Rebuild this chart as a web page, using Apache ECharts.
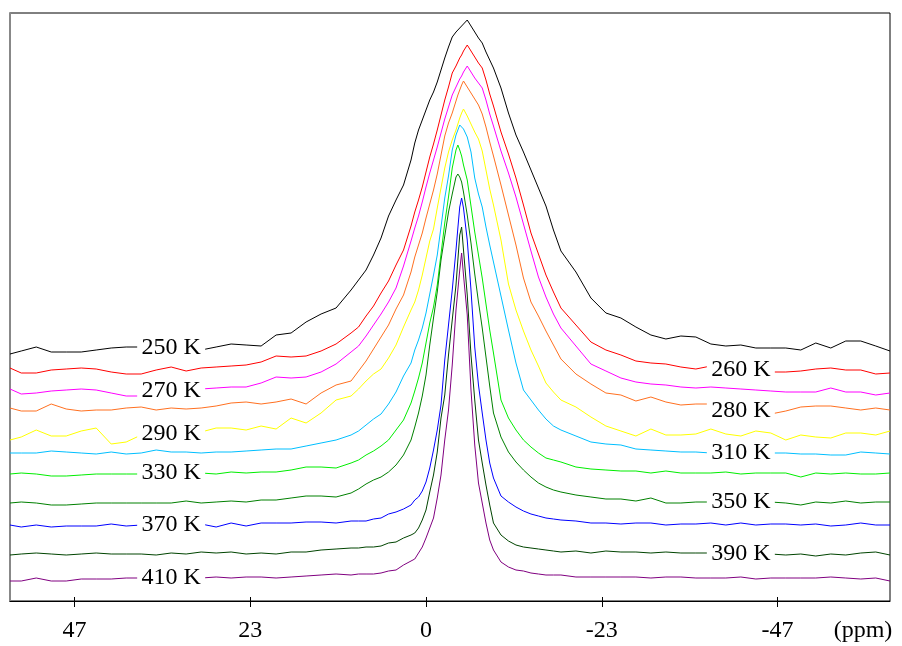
<!DOCTYPE html>
<html><head><meta charset="utf-8">
<script src="https://cdn.jsdelivr.net/npm/echarts@6/dist/echarts.min.js"></script>
<style>html,body{margin:0;padding:0;background:#fff}#c{width:902px;height:646px}</style>
</head><body><div id="c"></div>
<script>
// chemical shift grid (ppm)
const ppm = [55.5,54,52,50,48,46,44,42,40,38,36,34,32,30,28,26,24,22,20,18,16,14,12,10,9,8,7,6,5,4,3,2,1.5,1,0.5,0,-0.5,-1,-1.5,-2,-2.5,-3,-3.5,-4,-4.25,-4.5,-4.75,-5,-5.5,-6,-6.5,-7,-7.5,-8,-8.5,-9,-10,-11,-12,-13,-14,-15,-16,-17,-18,-20,-22,-24,-26,-28,-30,-32,-34,-36,-38,-40,-42,-44,-46,-48,-50,-52,-54,-56,-58,-60,-61.9];

const tickValues = [46.9, 23.45, 0, -23.45, -46.9];
const tickLabels = ['47', '23', '0', '-23', '-47'];
const axisTitle = '(ppm)';
const axisTitleAt = -58.3;

const temps = ['250 K','260 K','270 K','280 K','290 K','310 K','330 K','350 K','370 K','390 K','410 K'];

// stacked spectra (arbitrary intensity units, already offset as in the figure)
const s250 = [247,250,254,249,249,249,251,253,254,254,253,253,252,251,254,257,256,255,266,268,279,287,293,311,321,331,346,363,385,401,416,441,458,471,481,491,501,509,519,531,543,554,564,569,571,573,575,577,581,575,569,563,558,549,541,533,513,488,466,449,431,413,395,371,350,329,303,288,283,274,266,262,265,264,257,255,256,253,253,253,251,258,253,260,260,255,250];
const s260 = [233,228,228,231,232,233,232,229,227,227,231,234,230,233,234,235,236,239,245,244,245,250,257,268,274,285,295,308,320,336,351,375,389,401,414,429,444,457,471,486,501,514,528,535,539,543,546,550,556,550,544,538,533,521,507,495,469,447,423,396,368,347,326,309,293,276,259,251,246,240,238,237,234,232,235,233,231,230,229,229,230,232,233,231,231,227,228];
const s270 = [212,207,208,210,211,212,211,208,205,205,208,210,211,212,213,214,214,218,224,223,224,229,237,249,255,265,276,287,299,313,335,360,373,385,399,414,428,441,454,468,482,494,506,514,518,522,525,529,535,529,523,518,513,501,487,475,450,428,404,377,350,324,304,287,273,255,237,230,223,219,217,216,214,213,214,213,212,211,210,209,209,209,213,209,209,206,208];
const s280 = [193,190,190,197,192,190,191,191,193,194,191,193,192,193,195,198,199,197,199,202,197,208,216,220,230,240,252,264,276,292,306,329,344,356,368,383,397,411,427,446,465,478,488,500,506,511,516,520,514,508,502,496,487,474,459,445,416,386,356,323,299,285,270,256,242,227,217,208,206,200,204,199,196,197,197,193,190,188,187,190,194,195,195,193,191,193,191];
const s290 = [161,164,171,165,165,170,173,157,159,166,167,167,168,169,173,173,171,175,172,183,178,188,201,205,212,220,227,232,243,256,274,291,299,311,326,343,360,372,393,413,433,449,461,471,477,483,488,492,485,477,469,462,450,431,412,396,361,317,291,270,251,235,218,209,201,194,184,175,170,165,172,166,166,167,172,167,165,170,168,161,166,164,163,168,168,166,170];
const s310 = [148,148,148,150,149,148,147,149,147,148,151,149,149,148,149,149,150,151,152,152,155,158,161,166,170,176,182,187,197,209,225,238,251,261,273,288,307,326,346,374,403,425,451,466,471,476,476,472,464,449,423,407,394,374,356,339,305,271,238,211,201,191,182,175,171,165,159,157,156,152,151,150,149,149,148,148,148,148,148,148,147,147,146,146,149,148,147];
const s330 = [127,128,127,125,125,126,127,127,127,127,127,128,128,128,127,129,128,129,129,131,134,134,133,138,141,146,150,155,161,171,181,198,210,223,238,258,278,294,316,347,378,404,433,451,456,451,445,436,421,395,369,346,323,297,271,248,201,183,171,161,154,148,143,141,139,134,132,131,130,130,128,130,128,128,128,129,127,128,128,128,124,128,127,128,127,127,128];
const s350 = [98,99,98,96,96,97,98,98,98,98,98,98,100,98,99,100,99,101,101,103,105,105,104,108,112,117,121,124,129,136,146,161,174,188,205,226,256,283,309,341,365,389,407,424,427,424,419,409,386,358,327,299,273,244,215,188,164,149,139,131,124,118,114,111,109,106,104,102,102,100,103,98,98,99,99,99,99,99,99,98,96,99,98,100,98,99,99];
const s370 = [76,74,76,74,75,75,75,77,75,76,76,76,77,77,74,78,75,78,78,78,79,79,78,80,80,80,82,83,87,89,92,96,101,104,110,119,133,151,171,196,241,276,311,351,373,394,403,393,361,311,254,216,188,161,138,123,105,99,94,90,87,85,83,82,81,80,78,78,77,78,78,76,77,77,78,76,78,76,77,77,76,77,75,76,78,76,76];
const s390 = [46,47,48,47,46,47,48,47,47,47,46,48,47,49,48,49,47,48,47,49,49,51,52,53,53,54,54,55,58,59,63,66,68,73,81,91,109,126,149,183,206,246,281,316,341,366,374,351,306,246,201,161,138,116,96,78,66,60,56,54,53,52,51,50,49,50,48,50,49,49,48,49,48,48,48,47,47,47,47,46,47,45,47,46,48,49,46];
const s410 = [20,20,23,20,20,22,22,22,23,23,23,23,23,23,24,23,24,24,23,24,25,26,27,26,27,27,27,28,30,31,36,40,42,48,54,63,73,83,103,126,161,191,236,291,311,331,348,326,286,211,156,118,98,78,61,51,39,34,31,30,28,27,26,26,26,24,24,24,24,24,23,24,24,23,23,23,24,22,23,23,23,23,24,23,22,23,20];

const spectra = [s250,s260,s270,s280,s290,s310,s330,s350,s370,s390,s410];

// styling
const colors = ['#000000','#ff0000','#ff00ff','#ff7020','#ffff00','#00bfff','#00ee00','#008000','#0000ff','#004400','#800080'];
const labelPpm = [34, -42, 34, -42, 34, -42, 34, -42, 34, -42, 34];
const FONT = 'Liberation Serif';

const chart = echarts.init(document.getElementById('c'), null, {renderer: 'canvas'});

const series = spectra.map((vals, k) => {
  const li = ppm.indexOf(labelPpm[k]);
  return {
    type: 'line',
    name: temps[k],
    data: ppm.map((p, i) => [p, vals[i]]),
    showSymbol: false,
    symbol: 'none',
    lineStyle: {color: colors[k], width: 1},
    itemStyle: {color: colors[k]},
    silent: true,
    z: 2,
    markPoint: {
      silent: true,
      symbol: 'rect',
      symbolSize: [68, 26],
      itemStyle: {color: '#ffffff'},
      label: {show: true, position: 'inside', formatter: '{b}', color: '#000', fontSize: 24, fontFamily: FONT},
      data: [{name: temps[k], coord: [ppm[li], vals[li]]}]
    }
  };
});

const lblVals = tickValues.concat([axisTitleAt]);
const lblText = tickLabels.concat([axisTitle]);

chart.setOption({
  animation: false,
  backgroundColor: '#ffffff',
  grid: {left: 10, right: 12, top: 13, bottom: 45, show: true, borderColor: '#000', borderWidth: 1, backgroundColor: 'transparent'},
  xAxis: [{
    type: 'value', inverse: true, min: -61.9, max: 55.5,
    axisLine: {show: true, onZero: false, lineStyle: {color: '#000', width: 1}},
    axisTick: {show: true, customValues: tickValues, length: 6, inside: false, lineStyle: {color: '#000'}},
    axisLabel: {
      show: true, customValues: lblVals, margin: 18, color: '#000', fontSize: 24, fontFamily: FONT,
      formatter: function (v) {
        for (let i = 0; i < lblVals.length; i++) if (Math.abs(lblVals[i] - v) < 1e-6) return lblText[i];
        return '';
      }
    },
    splitLine: {show: false}
  }, {
    type: 'value', inverse: true, min: -61.9, max: 55.5, position: 'bottom',
    axisLine: {show: false, onZero: false},
    axisTick: {show: true, customValues: tickValues, length: 4, inside: true, lineStyle: {color: '#000'}},
    axisLabel: {show: false},
    splitLine: {show: false}
  }],
  yAxis: {
    type: 'value', min: 0, max: 588, position: 'left',
    axisLine: {show: true, onZero: false, lineStyle: {color: '#888', width: 2}},
    axisTick: {show: false}, axisLabel: {show: false}, splitLine: {show: false}
  },
  series: series
});
</script>
</body></html>
